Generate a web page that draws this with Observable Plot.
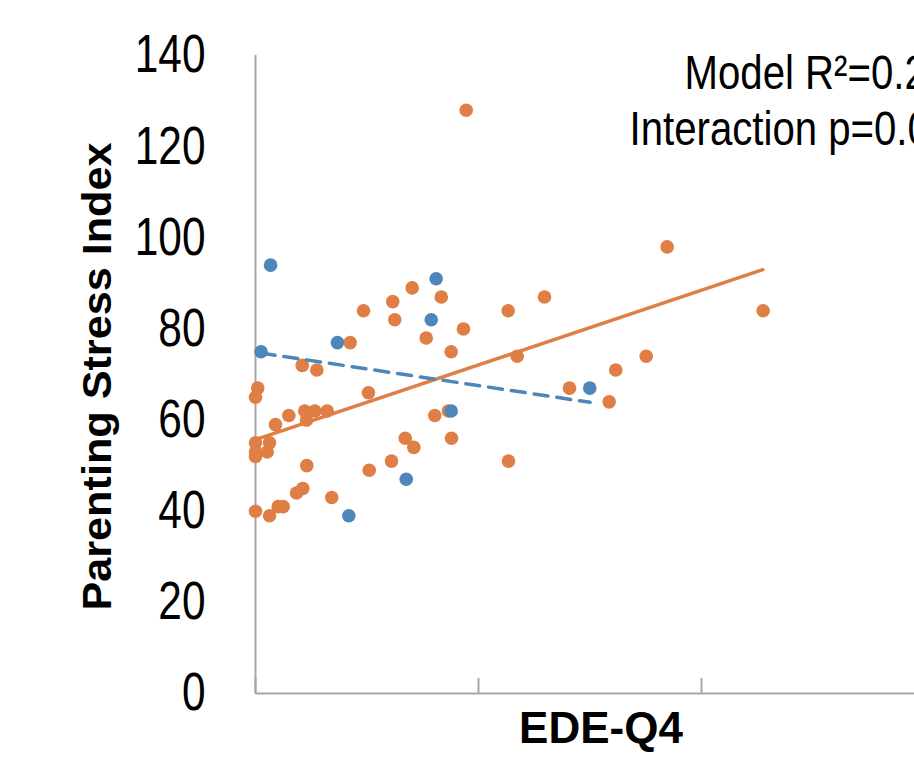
<!DOCTYPE html>
<html><head><meta charset="utf-8">
<script src="https://cdn.jsdelivr.net/npm/d3@7"></script>
<script src="https://cdn.jsdelivr.net/npm/@observablehq/plot@0.6"></script>
<style>html,body{margin:0;padding:0;background:#fff;overflow:hidden;}</style>
</head><body><div id="chart"></div>
<script>
// Orange group (EDE-Q4 vs Parenting Stress Index)
const orangeX = [1.405,1.666,1.231,0.969,1.249,1.865,1.531,0.849,1.755,0.419,0.55,1.013,0.02,0,0.299,0.179,0.442,0.532,0.643,0.457,1.608,1.73,0,0.126,0,0.105,0,1.758,1.343,1.42,0.46,1.22,1.02,0.424,0.368,0.684,0,0.126,0.204,0.248,1.89,3.692,4.553,2.592,2.266,2.347,3.504,3.231,2.816,3.172,2.269];
const orangeY = [89,87,86,84,82,80,78,77,75,72,71,66,67,65,61,59,62,62,62,60,61,62,55,55,53,53,52,56,56,54,50,51,49,45,44,43,40,39,41,41,128,98,84,87,84,74,74,71,67,64,51];
// Blue group
const blueX = [0.135,0.05,0.735,1.62,1.576,1.755,1.352,0.837,2.998];
const blueY = [94,75,77,91,82,62,47,39,67];
// Trend lines (endpoints)
const orangeTrendX = [0, 4.55];
const orangeTrendY = [55.7, 93.0];
const blueTrendX = [0.05, 3.0];
const blueTrendY = [74.7, 63.9];
// Axes
const yTicks = [0,20,40,60,80,100,120,140];
const xTicks = [0,2,4,6];
const xTitle = "EDE-Q4";
const yTitle = "Parenting Stress Index";
const noteLines = ["Model R\u00B2=0.2", "Interaction p=0.0"];

const ORANGE = "#DF7F45", BLUE = "#4E86BA", AXIS = "#A6A6A6";
const FONT = "'Liberation Sans',Arial,sans-serif";

const orange = orangeX.map((x,i)=>({x, y: orangeY[i]}));
const blue = blueX.map((x,i)=>({x, y: blueY[i]}));
const oTrend = orangeTrendX.map((x,i)=>({x, y: orangeTrendY[i]}));
const bTrend = blueTrendX.map((x,i)=>({x, y: blueTrendY[i]}));

const chart = Plot.plot({
  width: 914, height: 758,
  marginLeft: 255, marginRight: 0, marginTop: 55, marginBottom: 65,
  style: {background: "white", overflow: "hidden", fontFamily: FONT},
  x: {domain: [0, 6], range: [255, 924]},
  y: {domain: [0, 140]},
  marks: [
    Plot.axisY({ticks: yTicks, tickSize: 0, tickPadding: 50, label: null, fontSize: 53, fontFamily: FONT, fill: "black"}),
    Plot.axisX({ticks: xTicks, tickSize: -15, tickFormat: () => "", label: null, stroke: AXIS, strokeWidth: 2}),
    Plot.ruleX([0], {stroke: AXIS, strokeWidth: 2}),
    Plot.ruleY([0], {stroke: AXIS, strokeWidth: 2}),
    Plot.dot(orange, {x: "x", y: "y", r: 6.8, fill: ORANGE}),
    Plot.dot(blue, {x: "x", y: "y", r: 6.8, fill: BLUE}),
    Plot.line(oTrend, {x: "x", y: "y", stroke: ORANGE, strokeWidth: 3.5}),
    Plot.line(bTrend, {x: "x", y: "y", stroke: BLUE, strokeWidth: 3.5, strokeDasharray: "14,9"}),
    Plot.text([yTitle], {text: d => d, frameAnchor: "left", dx: -145, dy: 2, rotate: -90, textAnchor: "middle", lineAnchor: "bottom", fontSize: 40, fontWeight: "bold", fontFamily: FONT, fill: "black"}),
    Plot.text([xTitle], {text: d => d, frameAnchor: "bottom", dx: 16, dy: 49, lineAnchor: "bottom", fontSize: 44, fontWeight: "bold", fontFamily: FONT, fill: "black"}),
    Plot.text([noteLines[0]], {text: d => d, frameAnchor: "top-left", dx: 429, dy: 33, lineAnchor: "bottom", textAnchor: "start", fontSize: 49, fontFamily: FONT, fill: "black"}),
    Plot.text([noteLines[1]], {text: d => d, frameAnchor: "top-left", dx: 374, dy: 89, lineAnchor: "bottom", textAnchor: "start", fontSize: 49, fontFamily: FONT, fill: "black"})
  ]
});
document.getElementById("chart").append(chart);

// Condense / stretch a text element about its anchor point by wrapping it in a scaled group
function squeezeEl(t, sx, sy, anchor) {
  const r = t.getBoundingClientRect();
  const p = t.parentNode;
  const m = p.getScreenCTM().inverse();
  const ax = anchor === "end" ? r.right : anchor === "start" ? r.left : (r.left + r.right) / 2;
  const ay = (r.top + r.bottom) / 2;
  const q = new DOMPoint(ax, ay).matrixTransform(m);
  const g = document.createElementNS("http://www.w3.org/2000/svg", "g");
  g.setAttribute("transform", `translate(${q.x},${q.y}) scale(${sx},${sy}) translate(${-q.x},${-q.y})`);
  p.insertBefore(g, t);
  g.appendChild(t);
}
chart.querySelectorAll('g[aria-label="y-axis tick label"] text').forEach(t => squeezeEl(t, 0.8, 1, "end"));
chart.querySelectorAll("text").forEach(t => {
  const s = t.textContent;
  if (noteLines.includes(s)) squeezeEl(t, 0.82, 1, "start");
  else if (s === yTitle) squeezeEl(t, 1, 1.08, "middle");
});
</script>
</body></html>
